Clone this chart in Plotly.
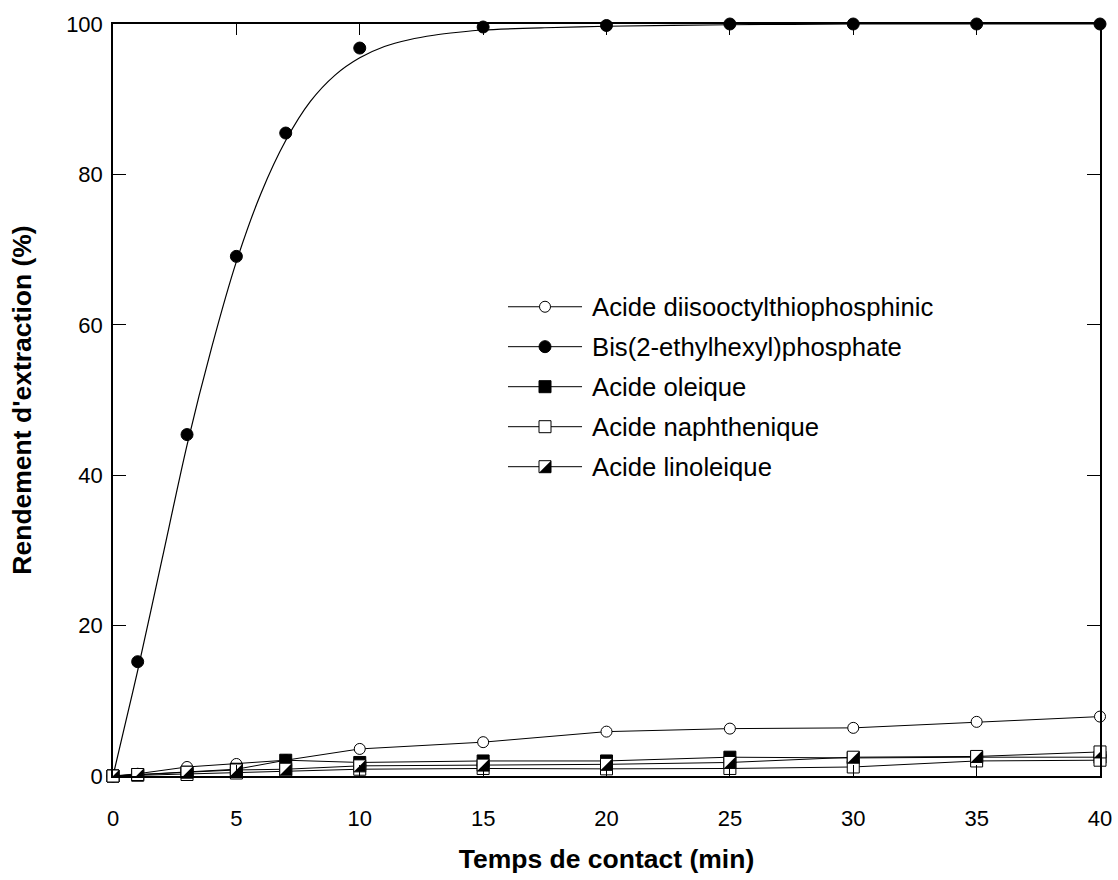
import plotly.graph_objects as go

# Contact time (min) at which samples were taken
temps = [0, 1, 3, 5, 7, 10, 15, 20, 25, 30, 35, 40]

# Extraction yield (%) for each extractant
diisooctyl = [0, 0.3, 1.2, 1.6, 2.1, 3.6, 4.5, 5.9, 6.3, 6.4, 7.2, 7.9]
bis_ehp = [0, 15.2, 45.4, 69.1, 85.5, 96.8, 99.6, 99.8, 100, 100, 100, 100]
oleique = [0, 0.2, 0.5, 0.9, 2.1, 1.8, 2.0, 2.0, 2.5, 2.4, 2.5, 2.5]
naphthenique = [0, 0.1, 0.2, 0.4, 0.6, 0.9, 1.0, 0.95, 1.0, 1.2, 2.0, 2.1]
linoleique = [0, 0.2, 0.5, 0.8, 0.9, 1.35, 1.45, 1.55, 1.8, 2.5, 2.6, 3.2]

# Fitted kinetic curve for Bis(2-ethylhexyl)phosphate
fit_t = [0, 0.5, 1, 2, 3, 4, 5, 6, 7, 8, 9, 10, 11, 12, 13, 14, 15, 17.5, 20, 25, 30, 35, 40]
fit_y = [0, 7, 14, 29, 44, 57, 68.4, 77.5, 84.5, 89.7, 93.2, 95.5, 97.0, 97.9, 98.5,
         98.9, 99.2, 99.5, 99.7, 99.9, 100, 100, 100]

legend_names = [
    "Acide diisooctylthiophosphinic",
    "Bis(2-ethylhexyl)phosphate",
    "Acide oleique",
    "Acide naphthenique",
    "Acide linoleique",
]

x_ticks = [0, 5, 10, 15, 20, 25, 30, 35, 40]
y_ticks = [0, 20, 40, 60, 80, 100]

FONT = "Arial, Liberation Sans, sans-serif"
BLACK = "black"
MS = 12          # marker size (px)
HALF = MS / 2    # half side of square marker (px)

open_circle = dict(symbol="circle", size=11, color="white", line=dict(color=BLACK, width=1))
filled_circle = dict(symbol="circle", size=12, color=BLACK, line=dict(color=BLACK, width=1))
filled_square = dict(symbol="square", size=MS, color=BLACK, line=dict(color=BLACK, width=1))
open_square = dict(symbol="square", size=MS, color="white", line=dict(color=BLACK, width=1))
thin = dict(color=BLACK, width=1)

fig = go.Figure()

fig.add_trace(go.Scatter(x=temps, y=diisooctyl, mode="lines+markers", line=thin,
                         marker=open_circle, cliponaxis=False, showlegend=False))
fig.add_trace(go.Scatter(x=fit_t, y=fit_y, mode="lines", line=dict(color=BLACK, width=1.2,
                         shape="spline", smoothing=0.8), cliponaxis=False, showlegend=False))
fig.add_trace(go.Scatter(x=temps, y=bis_ehp, mode="markers", marker=filled_circle,
                         cliponaxis=False, showlegend=False))
fig.add_trace(go.Scatter(x=temps, y=oleique, mode="lines+markers", line=thin,
                         marker=filled_square, cliponaxis=False, showlegend=False))
fig.add_trace(go.Scatter(x=temps, y=naphthenique, mode="lines+markers", line=thin,
                         marker=open_square, cliponaxis=False, showlegend=False))
fig.add_trace(go.Scatter(x=temps, y=linoleique, mode="lines+markers", line=thin,
                         marker=open_square, cliponaxis=False, showlegend=False))

# Black lower-right half of the linoleic acid squares
half_path = f"M{HALF},{HALF} L{HALF},{-HALF} L{-HALF},{-HALF} Z"
shapes = []
for t, v in zip(temps, linoleique):
    shapes.append(dict(type="path", xref="x", yref="y", xsizemode="pixel", ysizemode="pixel",
                       xanchor=t, yanchor=v, path=half_path, fillcolor=BLACK,
                       line=dict(width=0), layer="above"))

# Hand-built key drawn on an overlay axis (0..1 over the plot area)
key_x0, key_x1, key_xm, key_text_x = 0.4002, 0.4752, 0.4377, 0.4833
key_rows = [0.624, 0.5709, 0.5177, 0.4645, 0.4113]
key_markers = [open_circle, filled_circle, filled_square, open_square, open_square]
annotations = []
for name, yk, mk in zip(legend_names, key_rows, key_markers):
    fig.add_trace(go.Scatter(x=[key_x0, key_x1], y=[yk, yk], mode="lines", line=thin,
                             xaxis="x2", yaxis="y2", showlegend=False, hoverinfo="skip"))
    fig.add_trace(go.Scatter(x=[key_xm], y=[yk], mode="markers", marker=mk,
                             xaxis="x2", yaxis="y2", showlegend=False, hoverinfo="skip"))
    annotations.append(dict(x=key_text_x, y=yk, xref="x2", yref="y2", text=name,
                            showarrow=False, xanchor="left", yanchor="middle",
                            font=dict(family=FONT, size=25.7, color=BLACK)))
shapes.append(dict(type="path", xref="x2", yref="y2", xsizemode="pixel", ysizemode="pixel",
                   xanchor=key_xm, yanchor=key_rows[4], path=half_path, fillcolor=BLACK,
                   line=dict(width=0), layer="above"))

axis_common = dict(showgrid=False, zeroline=False, showline=True, linecolor=BLACK,
                   linewidth=1.5, mirror="ticks", ticks="inside", tickcolor=BLACK,
                   tickwidth=1.2, automargin=False,
                   tickfont=dict(family=FONT, size=22, color=BLACK))

fig.update_layout(
    width=1118, height=880,
    margin=dict(l=113, r=18, t=24, b=104),
    paper_bgcolor="white", plot_bgcolor="white",
    showlegend=False,
    xaxis=dict(range=[0, 40], tickvals=x_ticks, ticklen=11, ticklabelstandoff=22,
               title=dict(text="Temps de contact (min)", standoff=19,
                          font=dict(family=FONT, size=26.5, color=BLACK, weight="bold")),
               **axis_common),
    yaxis=dict(range=[0, 100], tickvals=y_ticks, ticklen=13, ticklabelstandoff=4,
               title=dict(text="Rendement d'extraction (%)", standoff=27,
                          font=dict(family=FONT, size=26.5, color=BLACK, weight="bold")),
               **axis_common),
    xaxis2=dict(range=[0, 1], overlaying="x", visible=False, anchor="y2"),
    yaxis2=dict(range=[0, 1], overlaying="y", visible=False, anchor="x2"),
    shapes=shapes,
    annotations=annotations,
)

fig.write_html("out.html")
